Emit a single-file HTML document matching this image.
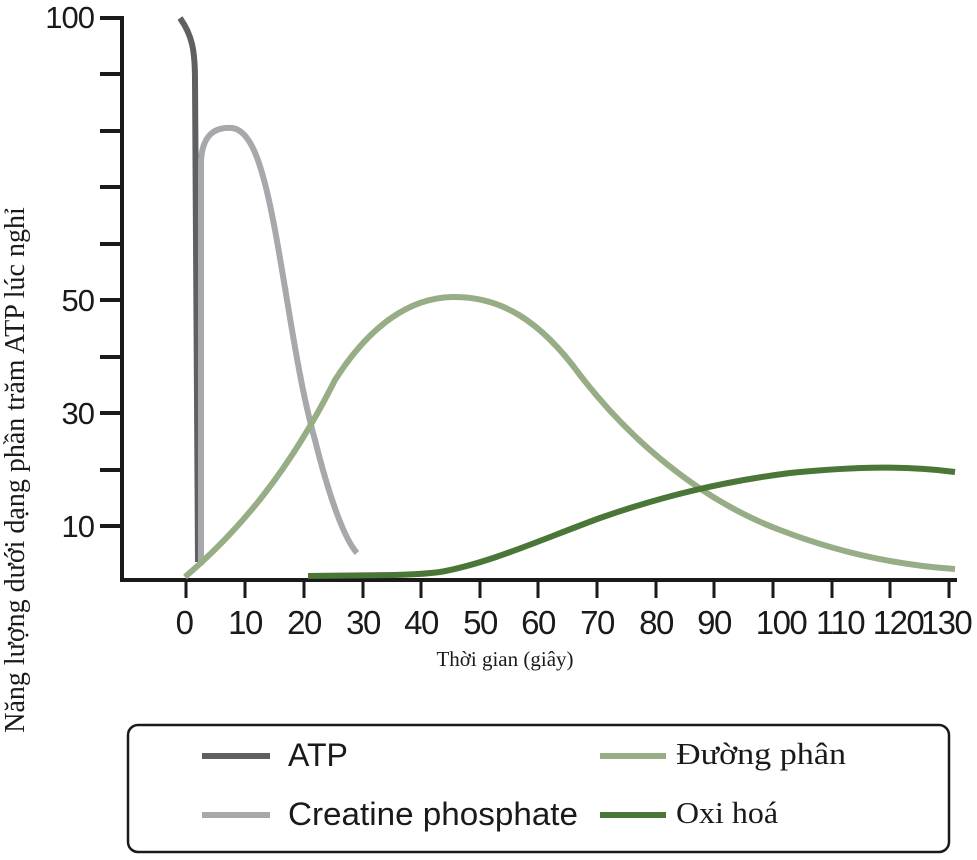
<!DOCTYPE html>
<html><head><meta charset="utf-8"><style>
body{margin:0;background:#fff;width:977px;height:855px;overflow:hidden}
</style></head><body>
<svg width="977" height="855" viewBox="0 0 977 855" xmlns="http://www.w3.org/2000/svg">
<g stroke="#1a1a1a" stroke-width="4" fill="none">
<line x1="122" y1="16" x2="122" y2="582"/>
<line x1="120" y1="580" x2="957" y2="580"/>
<line x1="100" y1="18" x2="122" y2="18"/><line x1="100" y1="74" x2="122" y2="74"/>
<line x1="100" y1="131" x2="122" y2="131"/><line x1="100" y1="187" x2="122" y2="187"/>
<line x1="100" y1="244" x2="122" y2="244"/><line x1="100" y1="300" x2="122" y2="300"/>
<line x1="100" y1="357" x2="122" y2="357"/><line x1="100" y1="413" x2="122" y2="413"/>
<line x1="100" y1="470" x2="122" y2="470"/><line x1="100" y1="526" x2="122" y2="526"/>
</g>
<g stroke="#1a1a1a" stroke-width="3">
<line x1="186" y1="580" x2="186" y2="598"/><line x1="245" y1="580" x2="245" y2="598"/>
<line x1="304" y1="580" x2="304" y2="598"/><line x1="363" y1="580" x2="363" y2="598"/>
<line x1="421" y1="580" x2="421" y2="598"/><line x1="480" y1="580" x2="480" y2="598"/>
<line x1="538" y1="580" x2="538" y2="598"/><line x1="597" y1="580" x2="597" y2="598"/>
<line x1="656" y1="580" x2="656" y2="598"/><line x1="714" y1="580" x2="714" y2="598"/>
<line x1="773" y1="580" x2="773" y2="598"/><line x1="832" y1="580" x2="832" y2="598"/>
<line x1="890" y1="580" x2="890" y2="598"/><line x1="949" y1="580" x2="949" y2="598"/>
</g>
<g font-family="Liberation Sans, sans-serif" font-size="31" fill="#1a1a1a" text-anchor="end" letter-spacing="-1">
<text x="94" y="28">100</text><text x="94" y="311">50</text><text x="94" y="424">30</text><text x="94" y="537">10</text>
</g>
<g font-family="Liberation Sans, sans-serif" font-size="33" fill="#1a1a1a" text-anchor="middle" letter-spacing="-1.5">
<text x="184" y="634">0</text><text x="245" y="634">10</text><text x="304" y="634">20</text><text x="363" y="634">30</text>
<text x="421" y="634">40</text><text x="480" y="634">50</text><text x="538" y="634">60</text><text x="597" y="634">70</text>
<text x="656" y="634">80</text><text x="714" y="634">90</text><text x="781" y="634">100</text><text x="840" y="634">110</text>
<text x="898" y="634">120</text><text x="946" y="634">130</text>
</g>
<text x="505" y="666" font-family="Liberation Serif, serif" font-size="21" text-anchor="middle" fill="#1a1a1a">Thời gian (giây)</text>
<text transform="translate(24,470) rotate(-90)" font-family="Liberation Serif, serif" font-size="28" text-anchor="middle" fill="#1a1a1a">Năng lượng dưới dạng phần trăm ATP lúc nghỉ</text>
<g fill="none" stroke-width="6" stroke-linecap="butt">
<path d="M180,18 C192,35 195,50 195,80 L198,562" stroke="#5f6062"/>
<path d="M201,565 L201,160 C203,130 220,127 232,128 C250,130 262,160 275,230 C288,300 298,380 315,440 C330,500 345,540 357,553" stroke="#a7a8ab"/>
<path d="M185,577 C240,530 290,470 335,380 C370,325 410,298 452,297 C500,296 540,320 580,375 C630,440 700,500 780,530 C850,557 910,566 955,569" stroke="#97ad86"/>
<path d="M308,576 C370,575 410,576 440,572 C490,563 540,540 600,518 C660,497 720,482 790,473 C860,466 910,466 955,472" stroke="#4a7638"/>
</g>
<rect x="128" y="725" width="821" height="127" rx="10" fill="none" stroke="#1a1a1a" stroke-width="2.5"/>
<g stroke-width="6">
<line x1="202" y1="756" x2="270" y2="756" stroke="#5f6062"/>
<line x1="202" y1="815" x2="270" y2="815" stroke="#a7a8ab"/>
<line x1="600" y1="756" x2="666" y2="756" stroke="#97ad86"/>
<line x1="600" y1="815" x2="666" y2="815" stroke="#4a7638"/>
</g>
<g font-family="Liberation Sans, sans-serif" font-size="32" fill="#1a1a1a">
<text x="288" y="766">ATP</text><text x="288" y="825" textLength="290" lengthAdjust="spacingAndGlyphs">Creatine phosphate</text>
</g>
<g font-family="Liberation Serif, serif" font-size="31" fill="#1a1a1a">
<text x="676" y="764" textLength="170" lengthAdjust="spacingAndGlyphs">Đường phân</text><text x="676" y="823" textLength="102" lengthAdjust="spacingAndGlyphs">Oxi hoá</text>
</g>
</svg>
</body></html>
